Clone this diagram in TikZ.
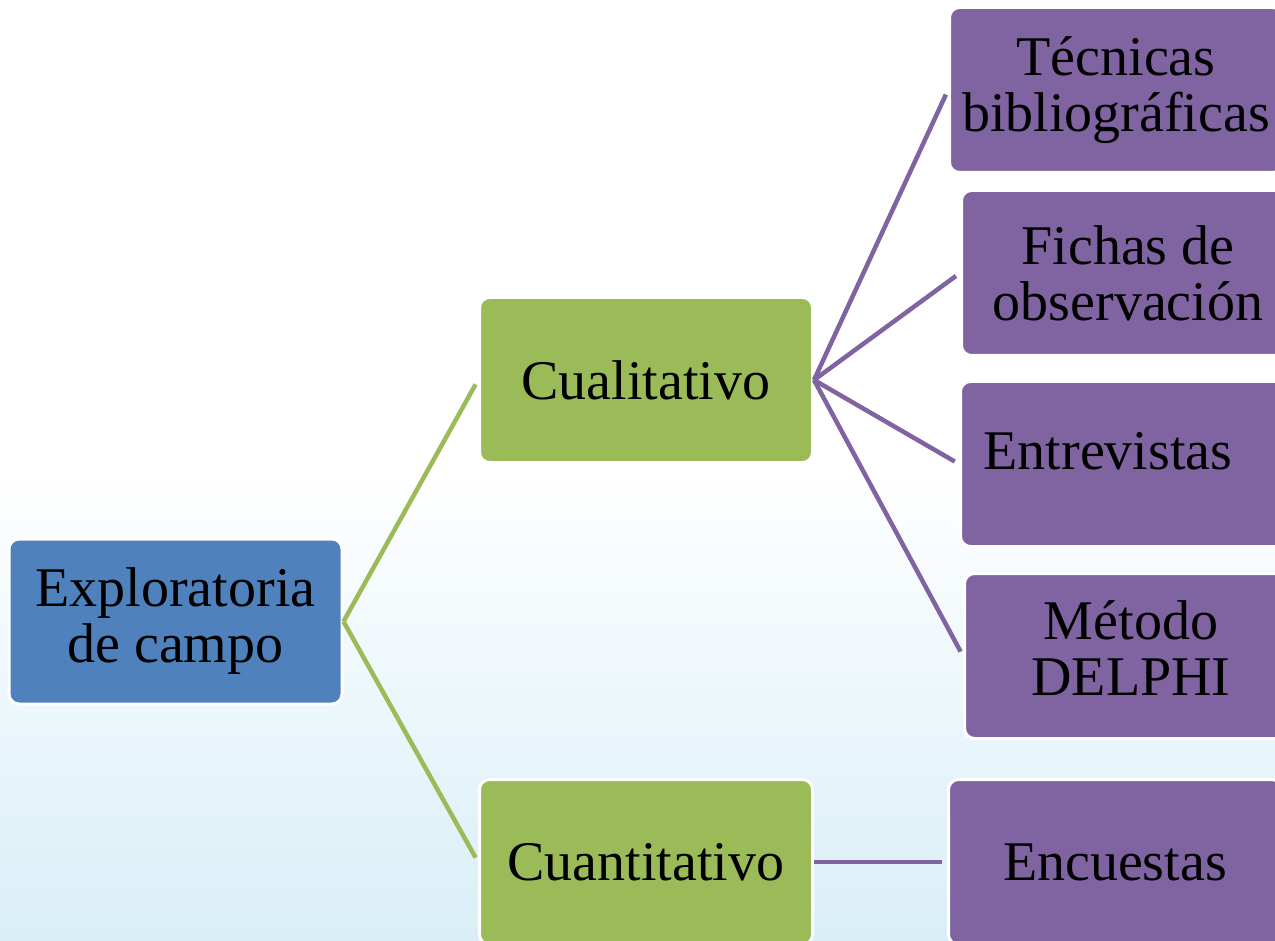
\documentclass[tikz,border=0pt]{standalone}
\usepackage{fontspec}
\setmainfont{Liberation Serif}
\usetikzlibrary{positioning}
\definecolor{azul}{HTML}{4F81BD}
\definecolor{verde}{HTML}{9BBB59}
\definecolor{morado}{HTML}{8064A2}
\definecolor{fondo}{HTML}{D9EEF7}

\begin{document}
\begin{tikzpicture}[x=1pt, y=-1pt,
	caja/.style = {draw=white, line width=3pt, rounded corners=10pt, minimum width=333pt, minimum height=165pt, inner sep=0pt, align=center, font=\fontsize{56}{56}\selectfont},
	rama/.style = {line width=4.5pt, shorten >=5pt}]
	\useasboundingbox (0,0) rectangle (1275,941);
	\clip (0,0) rectangle (1275,941);
	\fill[white] (0,0) rectangle (1275,941);
	\shade[top color=white, bottom color=fondo] (0,470) rectangle (1275,941);
		\node[caja, fill=azul] (1) at (175.5,621.5) {Exploratoria\\de campo};
		\node[caja, fill=verde] (2) [right of=1, node distance=470.5pt, yshift=241.5pt] {Cualitativo};
		\node[caja, fill=verde] (3) [right of=1, node distance=470.5pt, yshift=-240.5pt] {Cuantitativo};
		\node[caja, fill=morado] (4) [right of=2, node distance=470pt, yshift=290pt] {Técnicas\\bibliográficas};
		\node[caja, fill=morado] (5) [right of=2, node distance=482pt, yshift=107pt] {Fichas de\\observación};
		\node[caja, fill=morado, text height=40pt, text depth=30pt] (6) [right of=2, node distance=481pt, yshift=-84pt] {Entrevistas\hspace*{38pt}};
		\node[caja, fill=morado] (7) [right of=2, node distance=485pt, yshift=-276pt] {Método\\DELPHI\\[-40pt]};
		\node[caja, fill=morado] (8) [right of=3, node distance=469pt] {Encuestas};
		\draw[rama, verde] (1.east) -- (2.west);
		\draw[rama, verde] (1.east) -- (3.west);
		\draw[rama, morado] (2.east) -- (4.west);
		\draw[rama, morado] (2.east) -- (5.west);
		\draw[rama, morado] (2.east) -- (6.west);
		\draw[rama, morado] (2.east) -- (7.west);
		\draw[rama, morado] (3.east) -- (8.west);
	\end{tikzpicture}
\end{document}
